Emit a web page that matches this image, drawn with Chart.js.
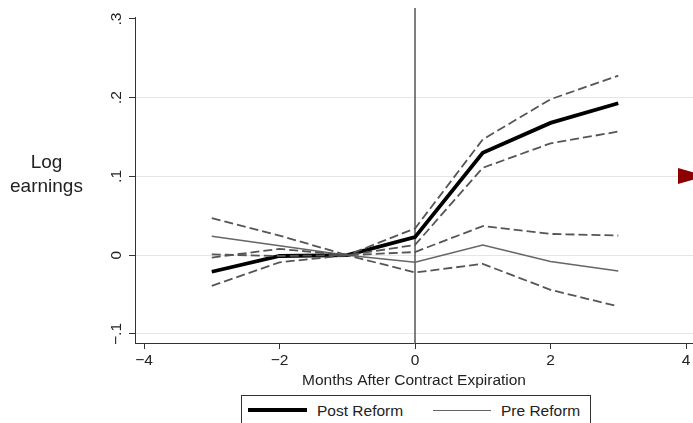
<!DOCTYPE html>
<html>
<head>
<meta charset="utf-8">
<script src="https://cdn.jsdelivr.net/npm/chart.js@4/dist/chart.umd.min.js"></script>
<style>
  html, body { margin:0; padding:0; background:#fff; width:693px; height:423px; overflow:hidden; }
  #wrap { position:relative; width:693px; height:423px; font-family:"Liberation Sans", Arial, Helvetica, sans-serif; color:#222; }
  canvas { position:absolute; left:0; top:0; }
  #ytitle { position:absolute; left:0; width:93px; top:150px; text-align:center; font-size:19px; line-height:24px; }
  #legend { position:absolute; left:241px; top:395px; width:350px; height:40px; border:1px solid #333; box-sizing:border-box; background:#fff; }
  .lg-line { position:absolute; }
  .lg-text { position:absolute; font-size:15.5px; line-height:18px; top:6px; white-space:nowrap; }
  #marker { position:absolute; left:678px; top:168px; width:0; height:0; border-top:8.5px solid transparent; border-bottom:8.5px solid transparent; border-left:28px solid #8b0000; }
</style>
</head>
<body>
<div id="wrap">
  <canvas id="c" width="693" height="423"></canvas>
  <div id="ytitle">Log<br>earnings</div>
  <div id="legend">
    <div class="lg-line" style="left:6px; top:12px; width:59px; height:4px; background:#000;"></div>
    <div class="lg-text" style="left:75px;">Post Reform</div>
    <div class="lg-line" style="left:191px; top:13.5px; width:58px; height:1.5px; background:#666;"></div>
    <div class="lg-text" style="left:259px;">Pre Reform</div>
  </div>
  <div id="marker"></div>
</div>
<script>
// ---- data ----
const months = [-3, -2, -1, 0, 1, 2, 3];
const postReform = [-0.021, -0.001, 0, 0.023, 0.130, 0.168, 0.193];
const postUpper  = [-0.003,  0.008, 0, 0.034, 0.147, 0.198, 0.228];
const postLower  = [-0.039, -0.009, 0, 0.013, 0.111, 0.142, 0.157];
const preReform  = [ 0.024,  0.012, 0, -0.009, 0.013, -0.008, -0.020];
const preUpper   = [ 0.047,  0.025, 0, 0.004, 0.037, 0.027, 0.025];
const preLower   = [ 0.001, -0.001, 0, -0.022, -0.011, -0.044, -0.065];
const xTickValues = [-4, -2, 0, 2, 4];
const xTickLabels = ['\u22124', '\u22122', '0', '2', '4'];
const yTickValues = [-0.1, 0, 0.1, 0.2, 0.3];
const yTickLabels = ['\u2212.1', '0', '.1', '.2', '.3'];
const referenceMonth = 0;

const FONT = '"Liberation Sans", Arial, Helvetica, sans-serif';
const pts = arr => months.map((m, i) => ({x: m, y: arr[i]}));
const dashed = (label, arr) => ({label, data: pts(arr), borderColor:'#555', borderWidth:1.8, borderDash:[9,4], pointRadius:0, fill:false, tension:0});

const zeroLine = {
  id: 'zeroLine',
  beforeDatasetsDraw(chart) {
    const {ctx, chartArea, scales} = chart;
    const x = scales.x.getPixelForValue(referenceMonth);
    ctx.save();
    ctx.strokeStyle = '#555';
    ctx.lineWidth = 1.5;
    ctx.beginPath();
    ctx.moveTo(x, chartArea.top - 9);
    ctx.lineTo(x, chartArea.bottom);
    ctx.stroke();
    ctx.restore();
  }
};

new Chart(document.getElementById('c'), {
  type: 'line',
  data: {
    datasets: [
      dashed('Post upper', postUpper),
      dashed('Post lower', postLower),
      dashed('Pre upper', preUpper),
      dashed('Pre lower', preLower),
      {label:'Pre Reform', data: pts(preReform), borderColor:'#666', borderWidth:1.6, pointRadius:0, fill:false, tension:0},
      {label:'Post Reform', data: pts(postReform), borderColor:'#000', borderWidth:3.8, pointRadius:0, fill:false, tension:0}
    ]
  },
  options: {
    responsive: false,
    animation: false,
    layout: { padding: { top: 17, right: 0, bottom: 0, left: 0 } },
    plugins: { legend: { display: false }, tooltip: { enabled: false } },
    scales: {
      x: {
        type: 'linear',
        min: -4.133, max: 4.103,
        afterBuildTicks: axis => { axis.ticks = xTickValues.map(v => ({value: v})); },
        afterFit: s => { s.height = 80; },
        ticks: {
          callback: (v, i) => xTickLabels[i],
          font: { family: FONT, size: 15.5 }, color: '#222', padding: 2,
          maxRotation: 0, autoSkip: false
        },
        grid: { drawOnChartArea: false, drawTicks: true, tickLength: 6, tickColor: '#333', tickWidth: 1 },
        border: { display: true, color: '#333', width: 1 },
        title: {
          display: true, text: 'Months After Contract Expiration',
          font: { family: FONT, size: 15.5 }, color: '#222',
          padding: { top: 0, bottom: 32.5 }
        }
      },
      y: {
        min: -0.1115, max: 0.3025,
        afterBuildTicks: axis => { axis.ticks = yTickValues.map(v => ({value: v})); },
        afterFit: s => { s.width = 135; },
        ticks: {
          callback: (v, i) => yTickLabels[i],
          font: { family: FONT, size: 15.5 }, color: '#222',
          minRotation: 90, maxRotation: 90, crossAlign: 'center', padding: 1, autoSkip: false
        },
        grid: {
          color: ctx => (ctx.tick && ctx.tick.value > 0.25) ? 'rgba(0,0,0,0)' : '#e6e6e6',
          lineWidth: 1, drawTicks: true, tickLength: 6, tickColor: '#333', tickWidth: 1
        },
        border: { display: true, color: '#333', width: 1 }
      }
    }
  },
  plugins: [zeroLine]
});
</script>
</body>
</html>
